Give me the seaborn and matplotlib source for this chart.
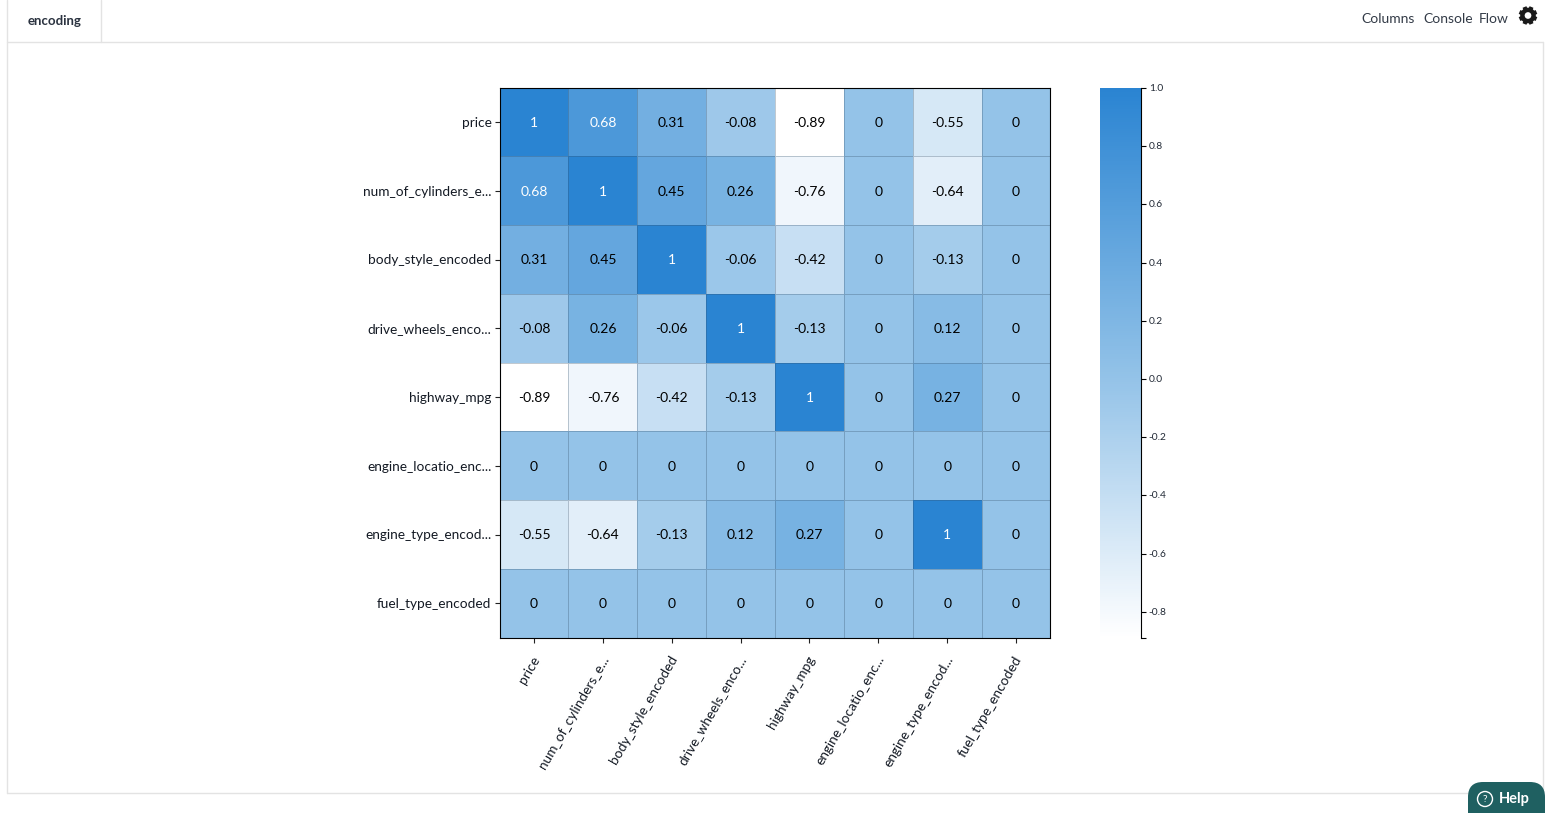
import numpy as np
import pandas as pd
import matplotlib
matplotlib.use('Agg')
import matplotlib.pyplot as plt
import seaborn as sns
from matplotlib.colors import LinearSegmentedColormap
from matplotlib.patches import FancyBboxPatch, Circle
from matplotlib.transforms import ScaledTranslation

W, H = 1562, 813

columns = ['price', 'num_of_cylinders_e...', 'body_style_encoded', 'drive_wheels_enco...',
           'highway_mpg', 'engine_locatio_enc...', 'engine_type_encod...', 'fuel_type_encoded']

price = [1, 0.68, 0.31, -0.08, -0.89, 0, -0.55, 0]
cylinders = [0.68, 1, 0.45, 0.26, -0.76, 0, -0.64, 0]
body_style = [0.31, 0.45, 1, -0.06, -0.42, 0, -0.13, 0]
drive_wheels = [-0.08, 0.26, -0.06, 1, -0.13, 0, 0.12, 0]
highway_mpg = [-0.89, -0.76, -0.42, -0.13, 1, 0, 0.27, 0]
engine_location = [0, 0, 0, 0, 0, 0, 0, 0]
engine_type = [-0.55, -0.64, -0.13, 0.12, 0.27, 0, 1, 0]
fuel_type = [0, 0, 0, 0, 0, 0, 0, 0]

cbar_ticks = [-0.89, -0.8, -0.6, -0.4, -0.2, 0.0, 0.2, 0.4, 0.6, 0.8, 1.0]
cbar_labels = ['', '-0.8', '-0.6', '-0.4', '-0.2', '0.0', '0.2', '0.4', '0.6', '0.8', '1.0']

sns.set_theme(style='white')
plt.rcParams['font.family'] = ['Lato', 'DejaVu Sans']


def px_axes(fig, left, top, right, bottom):
    return fig.add_axes([left / W, 1 - bottom / H, (right - left) / W, (bottom - top) / H])


def nudge(label, fig, dx, dy):
    # shift a text by a few pixels (dy positive = down)
    label.set_transform(label.get_transform() + ScaledTranslation(dx / 100, -dy / 100, fig.dpi_scale_trans))


df = pd.DataFrame([price, cylinders, body_style, drive_wheels, highway_mpg,
                   engine_location, engine_type, fuel_type], index=columns, columns=columns)
cmap = LinearSegmentedColormap.from_list('blues', [(0, '#ffffff'), (0.47, '#94c3e8'), (1, '#2a84d2')])

fig = plt.figure(figsize=(W / 100, H / 100), dpi=100, facecolor='white')

# page chrome, in pixel coordinates
bg = fig.add_axes([0, 0, 1, 1])
bg.set_xlim(0, W)
bg.set_ylim(H, 0)
bg.axis('off')
line_color = '#e3e3e3'
bg.plot([7, 7], [0, 793], color=line_color, lw=1)
bg.plot([1543, 1543], [42, 793], color=line_color, lw=1)
bg.plot([7, 1543], [793, 793], color=line_color, lw=1)
bg.plot([7, 1543], [42, 42], color=line_color, lw=1)
bg.plot([101, 101], [0, 42], color=line_color, lw=1)
bg.text(54.5, 21, 'encoding', fontsize=9.5, fontweight='bold', color='#2b3340', ha='center', va='center')
bg.text(1361, 19, 'Columns', fontsize=10, color='#333b47', ha='left', va='center')
bg.text(1423, 19, 'Console', fontsize=10, color='#333b47', ha='left', va='center')
bg.text(1479, 19, 'Flow', fontsize=10, color='#333b47', ha='left', va='center')

# gear icon
gear_x, gear_y = 1528, 15.5
bg.add_patch(Circle((gear_x, gear_y), 5.6, fc='none', ec='#1a1a1a', lw=3.2))
for a in np.deg2rad(np.arange(0, 360, 45) + 22.5):
    bg.plot([gear_x + 6 * np.cos(a), gear_x + 9.2 * np.cos(a)],
            [gear_y + 6 * np.sin(a), gear_y + 9.2 * np.sin(a)],
            color='#1a1a1a', lw=3, solid_capstyle='butt')

# help badge
bg.add_patch(FancyBboxPatch((1468, 782), 77, 50, boxstyle='round,pad=0,rounding_size=15',
                            fc='#1f6061', ec='none', zorder=3, clip_on=True))
bg.add_patch(Circle((1485, 799), 7.5, fc='none', ec='white', lw=1, zorder=4))
bg.text(1485, 799, '?', fontsize=7.5, color='white', ha='center', va='center', zorder=4)
bg.text(1499, 798.5, 'Help', fontsize=10.5, fontweight='bold', color='white', ha='left', va='center', zorder=4)

ax = px_axes(fig, 499.6, 87.6, 1050.4, 637.8)
cax = px_axes(fig, 1100, 88, 1141, 638)

sns.heatmap(df, ax=ax, cbar_ax=cax, cmap=cmap, vmin=-0.89, vmax=1.0, annot=True, fmt='g',
            annot_kws={'fontsize': 10, 'color': 'black'},
            linewidths=0.7, linecolor=(0.2, 0.3, 0.4, 0.3), square=False)

# white text only on the darkest cells
for t, v in zip(ax.texts, df.values.ravel()):
    t.set_color('white' if v >= 0.6 else 'black')
    nudge(t, fig, 0, 0.8)

for s in ax.spines.values():
    s.set_visible(True)
    s.set_color('black')
    s.set_linewidth(0.8)
ax.set_xlabel('')
ax.set_ylabel('')
ax.tick_params(axis='both', length=3.6, width=0.8, color='#222222', bottom=True, left=True, labelsize=9.8,
               labelcolor='#141a24', pad=2.2)
plt.setp(ax.get_yticklabels(), rotation=0, ha='right', va='center')
plt.setp(ax.get_xticklabels(), rotation=60, ha='right', va='center', rotation_mode='anchor')
ax.tick_params(axis='x', pad=10)
for lab in ax.get_yticklabels():
    nudge(lab, fig, 0, 0.8)
for lab in ax.get_xticklabels():
    nudge(lab, fig, 3, 0)

cbar = ax.collections[0].colorbar
cbar.outline.set_visible(False)
cbar.set_ticks(cbar_ticks, labels=cbar_labels)
cbar.ax.tick_params(axis='y', right=True, length=3.6, width=0.8, color='black', labelsize=7.4,
                    labelcolor='#222a36', pad=2)
cbar.ax.spines['right'].set_visible(True)
cbar.ax.spines['right'].set_color('black')
cbar.ax.spines['right'].set_linewidth(0.8)
for lab in cbar.ax.get_yticklabels():
    nudge(lab, fig, 0, -0.5)

fig.savefig('out.png', dpi=100, facecolor='white')
